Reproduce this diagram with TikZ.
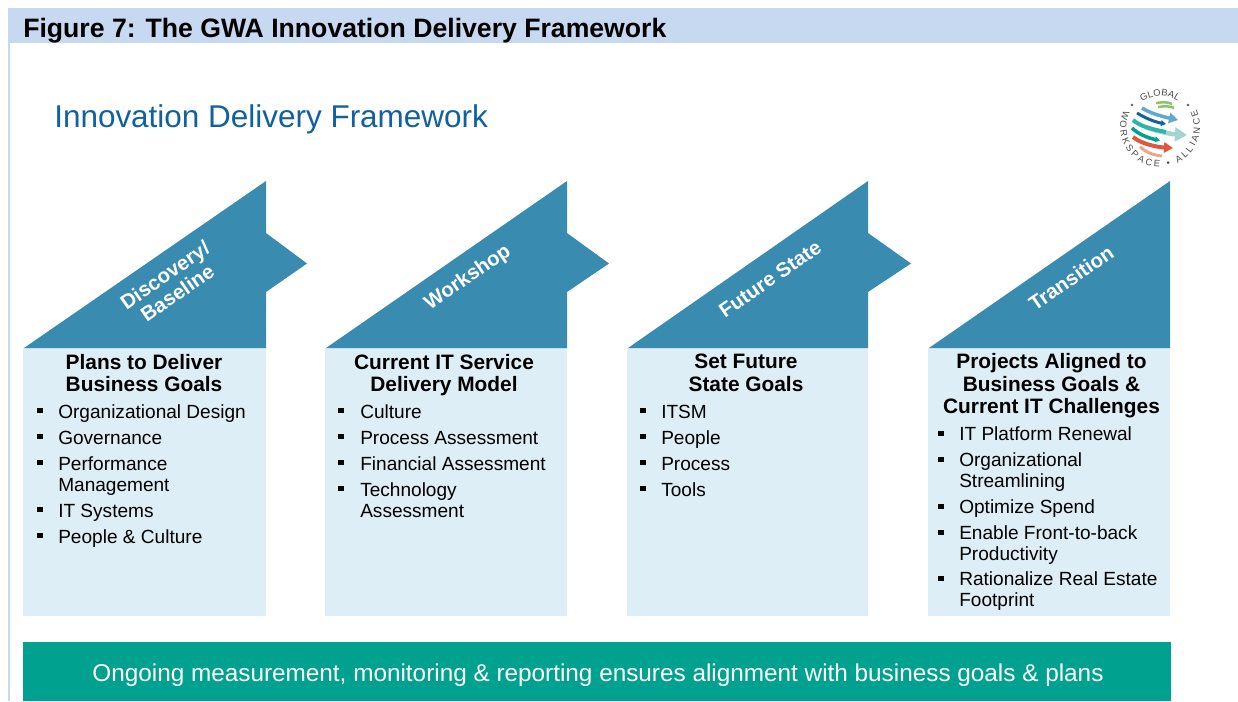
\documentclass[tikz,border=0pt]{standalone}
\usepackage{fontspec}
\setmainfont{Liberation Sans}
\usetikzlibrary{decorations.text,arrows.meta}
\definecolor{band}{HTML}{C6D9F1}
\definecolor{titleblue}{HTML}{0F619F}
\definecolor{arrowblue}{HTML}{3A8BB0}
\definecolor{boxblue}{HTML}{DEEEF6}
\definecolor{teal}{HTML}{00A28F}
\definecolor{lgreen}{HTML}{8CC66A}
\definecolor{lblue}{HTML}{5FA8CE}
\definecolor{lteal}{HTML}{9FD6D2}
\definecolor{mteal}{HTML}{2FB5A5}
\definecolor{lred}{HTML}{E0563F}
\definecolor{lorange}{HTML}{EFA58A}
\tikzset{
  x=0.75pt,y=-0.75pt,
  arrowshape/.style={fill=arrowblue,draw=none},
  boxshape/.style={fill=boxblue,draw=none},
  arrowlabel/.style={text=white,font=\fontsize{15.3}{16.3}\selectfont\bfseries,rotate=34.6,align=center},
  heading/.style={anchor=center,align=center,font=\fontsize{15.65}{16.9}\selectfont\bfseries,text=black},
  item/.style={anchor=base west,font=\fontsize{14.3}{16}\selectfont,text=black,inner sep=0pt},
  bullet/.style={fill=black,draw=none,minimum size=3.8pt,inner sep=0pt},
  swoosh/.style={line width=#1*0.75pt,line cap=butt},
  swooshtip/.style={-{Triangle[length=#1*0.75pt,width=#1*0.85pt]}},
}
\newcommand{\bul}[3]{%
  \node[bullet] (b#1) at (#2,#3-6.5) {};
}
\newcommand{\itm}[4]{% name, x, y-baseline, text
  \node[item] (#1) at (#2,#3) {#4};
}
\begin{document}
\begin{tikzpicture}
\useasboundingbox (0,0) rectangle (1238,701);
\fill[white] (0,0) rectangle (1238,701);
% title band
\fill[band] (8,8) rectangle (1238,43);
\fill[band] (8,43) rectangle (10,701);
\node[anchor=base west,inner sep=0pt,font=\fontsize{19.97}{22}\selectfont\bfseries] (fig) at (23,37) {Figure 7: The GWA Innovation Delivery Framework};
\node[anchor=base west,inner sep=0pt,text=titleblue,font=\fontsize{23.6}{28}\selectfont] (ttl) at (54,127) {Innovation Delivery Framework};
% logo
\begin{scope}
  \path[postaction={decorate,decoration={text along path,text align={fit to path},
     text={|\fontsize{7}{8}\selectfont\color{black!70}|GLOBAL}}}]
     (1142.2,101.6) arc[start angle=235,end angle=305,radius=31];
  \path[postaction={decorate,decoration={text along path,text align={fit to path},
     text={|\fontsize{7}{8}\selectfont\color{black!70}|WORKSPACE • ALLIANCE}}}]
     (1123.75,110.1) arc[start angle=205,end angle=-25,radius=40];
  \fill[black!65] (1132,105) circle (1.4);
  \fill[black!65] (1188,105) circle (1.4);
  \draw[swoosh=2.5,lgreen] (1156,103) .. controls (1163,102) and (1168,102) .. (1172,104);
  \draw[swoosh=2.5,lgreen] (1158,107) .. controls (1165,106) and (1170,106) .. (1174,108);
  \draw[swoosh=3.5,lblue,swooshtip=9] (1142,108) .. controls (1150,113) and (1160,116) .. (1178,120);
  \draw[swoosh=3,titleblue,swooshtip=5] (1137,113) .. controls (1145,118) and (1155,122) .. (1166,124);
  \draw[swoosh=4.5,lteal,swooshtip=12] (1146,127) .. controls (1155,131) and (1170,134) .. (1187,135);
  \draw[swoosh=4,mteal] (1133,120) .. controls (1140,126) and (1150,129) .. (1166,132);
  \draw[swoosh=3.5,teal,swooshtip=5] (1132,128) .. controls (1138,134) and (1148,138) .. (1160,140.5);
  \draw[swoosh=4,lred,swooshtip=9] (1133,137) .. controls (1140,143) and (1155,147) .. (1173,148);
  \draw[swoosh=3,lorange] (1140,147) .. controls (1146,152) and (1152,155) .. (1162,156);
\end{scope}
% columns
\foreach \n/\xa/\xb/\xc in {1/24/23/266,2/326/325/567,3/628/627/868,4/929/928/1170}{
  \fill[boxshape] (\xb,348) rectangle (\xc,616);
}
\path[arrowshape] (24,348) -- (266,181) -- (266,233) -- (307,263.5) -- (266,292) -- (266,348) -- cycle;
\path[arrowshape] (326,348) -- (567,181) -- (567,233) -- (609,263.5) -- (567,292) -- (567,348) -- cycle;
\path[arrowshape] (628,348) -- (868,181) -- (868,233) -- (911,263.5) -- (868,292) -- (868,348) -- cycle;
\path[arrowshape] (929,348) -- (1170,181) -- (1170,348) -- cycle;
\node[arrowlabel] (a1) at (171,284) {Discovery/\\Baseline};
\node[arrowlabel] (a2) at (468,278) {Workshop};
\node[arrowlabel] (a3) at (770,279) {Future State};
\node[arrowlabel] (a4) at (1071,278) {Transition};
% headings
\node[heading] (h1) at (144,373) {Plans to Deliver\\Business Goals};
\node[heading] (h2) at (444,375) {Current IT Service\\Delivery Model};
\node[heading] (h3) at (746,373) {Set Future\\State Goals};
\node[heading] (h4) at (1051.5,386) {Projects Aligned to\\Business Goals \&\\Current IT Challenges};
% column 1
\bul{11}{40}{417}\itm{t11}{58}{418}{Organizational Design}
\bul{12}{40}{443}\itm{t12}{58}{444}{Governance}
\bul{13}{40}{469}\itm{t13}{58}{470}{Performance}
\itm{t13b}{58}{491}{Management}
\bul{14}{40}{516}\itm{t14}{58}{517}{IT Systems}
\bul{15}{40}{542}\itm{t15}{58}{543}{People \& Culture}
% column 2
\bul{21}{341}{417}\itm{t21}{360}{418}{Culture}
\bul{22}{341}{443}\itm{t22}{360}{444}{Process Assessment}
\bul{23}{341}{469}\itm{t23}{360}{470}{Financial Assessment}
\bul{24}{341}{495}\itm{t24}{360}{496}{Technology}
\itm{t24b}{360}{517}{Assessment}
% column 3
\bul{31}{643}{417}\itm{t31}{661}{418}{ITSM}
\bul{32}{643}{443}\itm{t32}{661}{444}{People}
\bul{33}{643}{469}\itm{t33}{661}{470}{Process}
\bul{34}{643}{495}\itm{t34}{661}{496}{Tools}
% column 4
\bul{41}{941}{440}\itm{t41}{959}{440}{IT Platform Renewal}
\bul{42}{941}{466}\itm{t42}{959}{466}{Organizational}
\itm{t42b}{959}{487}{Streamlining}
\bul{43}{941}{513}\itm{t43}{959}{513}{Optimize Spend}
\bul{44}{941}{539}\itm{t44}{959}{539}{Enable Front-to-back}
\itm{t44b}{959}{560}{Productivity}
\bul{45}{941}{585}\itm{t45}{959}{585}{Rationalize Real Estate}
\itm{t45b}{959}{606}{Footprint}
% bottom band
\fill[teal] (23,642) rectangle (1171,701);
\node[anchor=center,text=white,inner sep=0pt,font=\fontsize{18.24}{22}\selectfont] (foot) at (598,675) {Ongoing measurement, monitoring \& reporting ensures alignment with business goals \& plans};
\end{tikzpicture}
\end{document}
